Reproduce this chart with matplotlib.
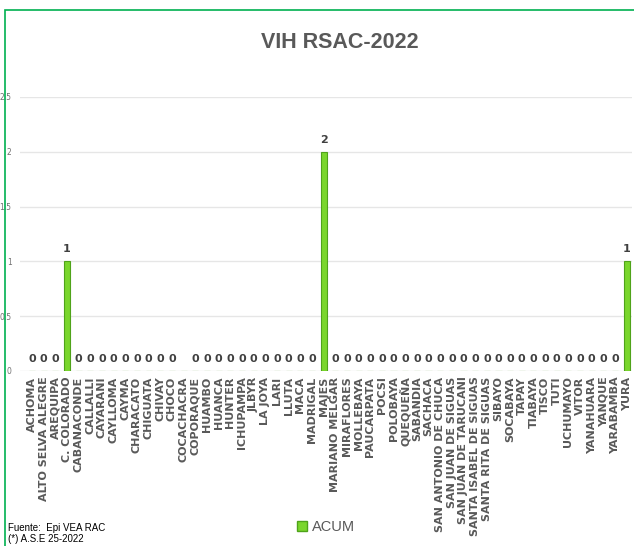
import matplotlib.pyplot as plt
import matplotlib.patches as mpatches
import numpy as np

# Distritos y casos acumulados de VIH
distritos = ["ACHOMA", "ALTO SELVA ALEGRE", "AREQUIPA", "C. COLORADO", "CABANACONDE",
             "CALLALLI", "CAYARANI", "CAYLLOMA", "CAYMA", "CHARACATO", "CHIGUATA",
             "CHIVAY", "CHOCO", "COCACHACRA", "COPORAQUE", "HUAMBO", "HUANCA", "HUNTER",
             "ICHUPAMPA", "JLBYR", "LA JOYA", "LARI", "LLUTA", "MACA", "MADRIGAL", "MAJES",
             "MARIANO MELGAR", "MIRAFLORES", "MOLLEBAYA", "PAUCARPATA", "POCSI", "POLOBAYA",
             "QUEQUEÑA", "SABANDIA", "SACHACA", "SAN ANTONIO DE CHUCA", "SAN JUAN DE SIGUAS",
             "SAN JUAN DE TARUCANI", "SANTA ISABEL DE SIGUAS", "SANTA RITA DE SIGUAS",
             "SIBAYO", "SOCABAYA", "TAPAY", "TIABAYA", "TISCO", "TUTI", "UCHUMAYO", "VITOR",
             "YANAHUARA", "YANQUE", "YARABAMBA", "YURA"]
acum = [0, 0, 0, 1, 0, 0, 0, 0, 0, 0, 0, 0, 0, None, 0, 0, 0, 0, 0, 0, 0, 0, 0, 0, 0, 2,
        0, 0, 0, 0, 0, 0, 0, 0, 0, 0, 0, 0, 0, 0, 0, 0, 0, 0, 0, 0, 0, 0, 0, 0, 0, 1]

vals = np.array([np.nan if v is None else v for v in acum], dtype=float)
x = np.arange(len(distritos))
narrow = ["Liberation Sans Narrow", "Liberation Sans"]

fig = plt.figure(figsize=(6.34, 5.46), dpi=100)
ax = fig.add_axes([20 / 634, 1 - 371 / 546, 612 / 634, 274 / 546])

ax.bar(x, np.nan_to_num(vals), width=0.52, color="#7ad62c",
       edgecolor="#4fa31a", linewidth=0.8, zorder=3)

for xi, v in zip(x, vals):
    if np.isnan(v):
        continue
    ax.annotate(f"{int(v)}", (xi, v), xytext=(0, 5), textcoords="offset points",
                ha="center", va="bottom", fontsize=8, fontweight="bold",
                color="#404040")

ax.set_ylim(0, 2.5)
ax.set_xlim(-1.03, 51.45)
ax.set_yticks([0, 0.5, 1, 1.5, 2, 2.5])
ax.set_yticklabels(["0", "0.5", "1", "1.5", "2", "2.5"])
ax.tick_params(axis="y", length=0, labelsize=5.5, labelcolor="#707070", pad=6)
ax.set_xticks(x)
ax.set_xticklabels(distritos, rotation=90, fontsize=8, fontweight="bold", color="#595959")
ax.tick_params(axis="x", length=0, pad=4)
ax.grid(axis="y", color="#e6e6e6", linewidth=1, zorder=0)
for s in ax.spines.values():
    s.set_visible(False)

fig.text(340 / 634, 1 - 42 / 546, "VIH RSAC-2022", ha="center", va="center",
         fontsize=15.5, fontweight="bold", color="#595959", family=narrow)

fig.text(8 / 634, 1 - 528 / 546, "Fuente:  Epi VEA RAC", fontsize=7, va="center",
         color="#000000", family=narrow)
fig.text(8 / 634, 1 - 539 / 546, "(*) A.S.E 25-2022", fontsize=7, va="center",
         color="#000000", family=narrow)

leg = fig.legend(handles=[mpatches.Patch(facecolor="#7ad62c", edgecolor="#4fa31a")],
                 labels=["ACUM"], loc="center", bbox_to_anchor=(326 / 634, 1 - 527 / 546),
                 frameon=False, handlelength=0.7, handleheight=0.7, handletextpad=0.3,
                 prop={"family": narrow, "size": 10.5})
for t in leg.get_texts():
    t.set_color("#595959")

# borde verde del grafico
fig.patches.append(mpatches.Rectangle((5 / 634, -0.1), 1.2, 1 - 10 / 546 + 0.1,
                                      transform=fig.transFigure, fill=False,
                                      edgecolor="#00b050", linewidth=1.2))

fig.savefig("out.png", dpi=100)
